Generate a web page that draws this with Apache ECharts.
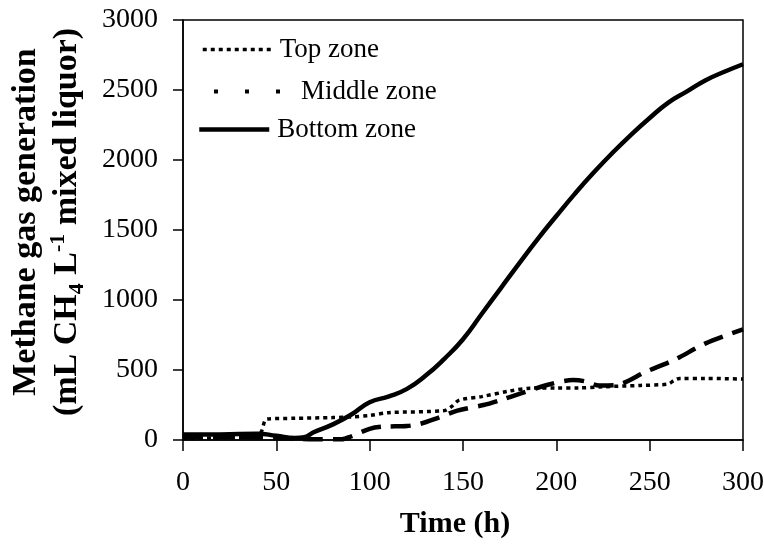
<!DOCTYPE html>
<html>
<head>
<meta charset="utf-8">
<script src="https://cdn.jsdelivr.net/npm/echarts@6/dist/echarts.min.js"></script>
<style>
  html, body { margin: 0; padding: 0; background: #fff; }
  #main { width: 764px; height: 558px; }
</style>
</head>
<body>
<div id="main"></div>
<script>
var FONT = '"Liberation Serif", "Times New Roman", serif';

// time (h) and methane (mL CH4 / L mixed liquor) for each zone
var topHours = [0, 20, 40, 42, 45, 60, 80, 90, 100, 110, 140, 144, 148, 160, 175, 186, 200, 212, 225, 245, 260, 263, 266, 280, 300];
var topValues = [10, 15, 20, 60, 150, 155, 160, 165, 175, 195, 210, 240, 285, 310, 350, 370, 372, 372, 380, 390, 400, 425, 440, 440, 435];

var middleHours = [0, 30, 50, 60, 70, 85, 90, 100, 107, 120, 127, 136, 147, 161, 170, 181, 195, 209, 215, 223, 232, 248, 263, 280, 300];
var middleValues = [20, 20, 15, 10, 5, 5, 25, 80, 95, 100, 115, 155, 210, 250, 285, 333, 393, 428, 420, 390, 393, 488, 571, 690, 790];

var bottomHours = [0, 20, 40, 50, 60, 65, 70, 80, 90, 100, 110, 120, 130, 140, 150, 160, 170, 180, 190, 200, 210, 220, 230, 240, 250, 260, 270, 280, 290, 300];
var bottomValues = [40, 40, 45, 30, 15, 20, 55, 110, 180, 270, 310, 365, 460, 580, 720, 900, 1080, 1260, 1435, 1600, 1760, 1910, 2050, 2180, 2300, 2410, 2490, 2570, 2630, 2684];

var xTicks = [0, 50, 100, 150, 200, 250, 300];
var yTicks = [0, 500, 1000, 1500, 2000, 2500, 3000];

function pairs(xs, ys) {
    return xs.map(function (x, i) { return [x, ys[i]]; });
}

var myChart = echarts.init(document.getElementById('main'));

var legendText = { fontFamily: FONT, fontSize: 27, color: '#000' };
var noSymbol = { opacity: 0, color: 'transparent', borderWidth: 0 };

var option = {
    backgroundColor: '#fff',
    animation: false,
    grid: {
        left: 183, right: 21, top: 20, bottom: 118,
        outerBoundsMode: 'none', containLabel: false,
        show: true, borderColor: '#000', borderWidth: 1.5, backgroundColor: 'transparent'
    },
    legend: [{
        data: ['Top zone'], left: 196, top: 31, itemWidth: 69, itemHeight: 14,
        textStyle: Object.assign({ padding: [0, 0, 0, 3] }, legendText),
        lineStyle: { type: [4, 4], width: 3.5 }, itemStyle: noSymbol
    }, {
        data: ['Middle zone'], left: 207, top: 73, itemWidth: 66, itemHeight: 14,
        textStyle: Object.assign({ padding: [0, 0, 0, 16] }, legendText),
        lineStyle: { type: [4, 27], width: 4 }, itemStyle: noSymbol
    }, {
        data: ['Bottom zone'], left: 192, top: 111, itemWidth: 70, itemHeight: 14,
        textStyle: Object.assign({ padding: [0, 0, 0, 3] }, legendText),
        lineStyle: { width: 4.5 }, itemStyle: noSymbol
    }],
    xAxis: {
        type: 'value', min: 0, max: 300, interval: 50,
        name: 'Time (h)', nameLocation: 'middle', nameGap: 69,
        nameTextStyle: { fontFamily: FONT, fontSize: 30, fontWeight: 'bold', color: '#000', padding: [0, 16, 0, 0] },
        axisLine: { lineStyle: { color: '#000', width: 1.5 } },
        axisTick: { show: true, inside: false, length: 11, lineStyle: { color: '#000', width: 1.5 } },
        axisLabel: {
            fontFamily: FONT, fontSize: 28, color: '#000', margin: 29,
            formatter: function (v) { return xTicks.indexOf(v) >= 0 ? String(v) : ''; }
        },
        splitLine: { show: false }
    },
    yAxis: {
        type: 'value', min: 0, max: 3000, interval: 500,
        name: '{b|Methane gas generation}\n{b|(mL CH}{sub|4}{b| L}{sup|-1}{b| mixed liquor)}',
        nameLocation: 'middle', nameGap: 95, nameRotate: 90,
        nameTextStyle: {
            fontFamily: FONT, fontSize: 34, fontWeight: 'bold', color: '#000', lineHeight: 41,
            padding: [0, 0, 0, 16],
            rich: {
                b: { fontFamily: FONT, fontSize: 34, fontWeight: 'bold', color: '#000', lineHeight: 41 },
                sub: { fontFamily: FONT, fontSize: 22, fontWeight: 'bold', color: '#000', lineHeight: 22, verticalAlign: 'bottom' },
                sup: { fontFamily: FONT, fontSize: 22, fontWeight: 'bold', color: '#000', lineHeight: 22, verticalAlign: 'top' }
            }
        },
        axisLine: { lineStyle: { color: '#000', width: 1.5 } },
        axisTick: { show: true, inside: false, length: 10, lineStyle: { color: '#000', width: 1.5 } },
        axisLabel: {
            fontFamily: FONT, fontSize: 28, color: '#000', margin: 25,
            formatter: function (v) { return yTicks.indexOf(v) >= 0 ? String(v) : ''; }
        },
        splitLine: { show: false }
    },
    series: [{
        name: 'Top zone', type: 'line', symbol: 'none', smooth: 0.3,
        lineStyle: { color: '#000', width: 3.5, type: [4, 4] },
        itemStyle: { color: '#000' },
        data: pairs(topHours, topValues)
    }, {
        name: 'Middle zone', type: 'line', symbol: 'none', smooth: 0.3,
        lineStyle: { color: '#000', width: 4.5, type: [20, 10] },
        itemStyle: { color: '#000' },
        data: pairs(middleHours, middleValues)
    }, {
        name: 'Bottom zone', type: 'line', symbol: 'none', smooth: 0.5,
        lineStyle: { color: '#000', width: 4.5 },
        itemStyle: { color: '#000' },
        data: pairs(bottomHours, bottomValues)
    }]
};

myChart.setOption(option);
</script>
</body>
</html>
